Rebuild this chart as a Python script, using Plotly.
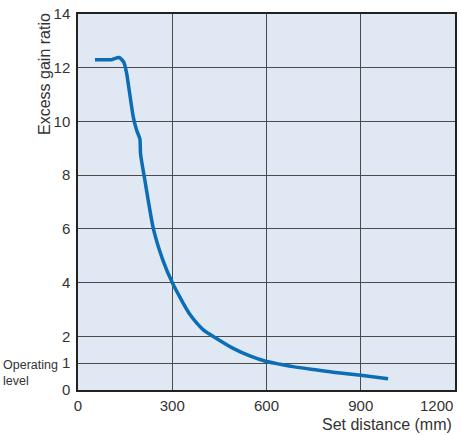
import plotly.graph_objects as go

# Curve (set distance in mm, excess gain ratio)
distance_mm = [54, 80, 107, 131, 146, 155, 163, 176, 187, 197, 199, 213, 240,
               271, 300, 326, 357, 399, 441, 494, 547, 600, 643, 685, 750,
               812, 900, 987]
gain_ratio = [12.3, 12.3, 12.3, 12.38, 12.2, 11.78, 11.16, 10.16, 9.66, 9.35,
              8.8, 7.8, 6.0, 4.81, 4.0, 3.42, 2.8, 2.24, 1.92, 1.55, 1.27,
              1.06, 0.96, 0.87, 0.76, 0.66, 0.55, 0.42]

x_ticks = [0, 300, 600, 900, 1200]
y_ticks = [0, 1, 2, 4, 6, 8, 10, 12, 14]

FONT = "Liberation Sans, Arial, sans-serif"

fig = go.Figure(
    go.Scatter(
        x=distance_mm,
        y=gain_ratio,
        mode="lines",
        line=dict(color="#0b6db3", width=3.5, shape="spline", smoothing=0.6),
        showlegend=False,
        hoverinfo="skip",
    )
)

axis_common = dict(
    showgrid=True,
    gridcolor="#4a4a4a",
    gridwidth=1.2,
    showline=True,
    linecolor="#222222",
    linewidth=1.5,
    mirror=True,
    zeroline=False,
    ticks="",
    tickfont=dict(family=FONT, size=15, color="#333333"),
)

# last x label is right-aligned against the frame, so it is drawn as an annotation
x_labels = [str(v) for v in x_ticks[:-1]] + [""]
fig.update_xaxes(range=[0, 1200], tickvals=x_ticks, ticktext=x_labels,
                 ticklabelstandoff=1, **axis_common)
fig.update_yaxes(range=[0, 14], tickvals=y_ticks, ticklabelstandoff=3, **axis_common)

fig.update_layout(
    width=462,
    height=435,
    margin=dict(l=78, r=5, t=13, b=45),
    plot_bgcolor="#e0e8f4",
    paper_bgcolor="white",
    font=dict(family=FONT, size=15, color="#333333"),
    annotations=[
        dict(text=str(x_ticks[-1]), x=x_ticks[-1], xref="x", yref="paper",
             y=-0.012, xanchor="right", yanchor="top", showarrow=False,
             font=dict(size=15)),
        # y title sits at the top of the axis, not centred
        dict(text="Excess gain ratio", xref="paper", yref="paper",
             x=-0.087, y=0.841, xanchor="center", yanchor="middle",
             textangle=-90, showarrow=False, font=dict(size=16)),
        dict(text="Set distance (mm)", xref="paper", yref="paper",
             x=0.997, y=-0.093, xanchor="right", yanchor="middle",
             showarrow=False, font=dict(size=16)),
        dict(text="Operating<br>level", xref="paper", yref="paper",
             x=-0.203, y=0.045, xanchor="left", yanchor="middle", align="left",
             showarrow=False, font=dict(size=12.5)),
    ],
)

# the page's default body margin would shift the figure by 8px
fig.write_html("out.html", config={"displayModeBar": False},
               post_script="document.body.style.margin='0';")
